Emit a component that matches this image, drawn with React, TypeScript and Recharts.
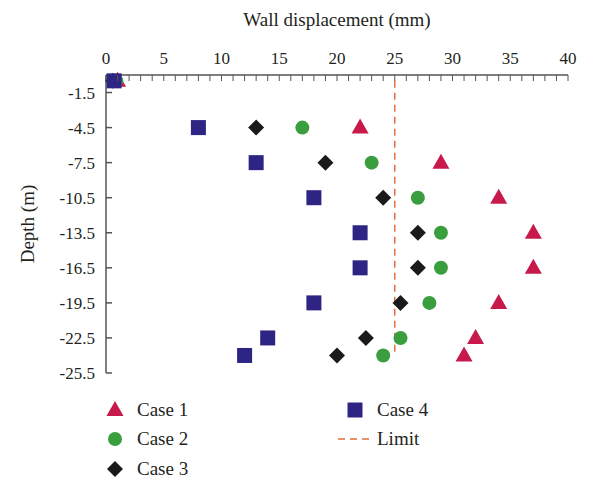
import React from 'react';
import { ScatterChart, Scatter, XAxis, YAxis } from 'recharts';

const DEPTHS = [-0.5, -4.5, -7.5, -10.5, -13.5, -16.5, -19.5, -22.5, -24];
const CASE_1 = [1, 22, 29, 34, 37, 37, 34, 32, 31];
const CASE_2 = [0.9, 17, 23, 27, 29, 29, 28, 25.5, 24];
const CASE_3 = [0.6, 13, 19, 24, 27, 27, 25.5, 22.5, 20];
const CASE_4 = [0.7, 8, 13, 18, 22, 22, 18, 14, 12];
const LIMIT_X = [25, 25];
const LIMIT_DEPTHS = [-0.5, -24];

const X_TICKS = Array.from({ length: 41 }, (_, i) => i);
const Y_TICKS = [-1.5, -4.5, -7.5, -10.5, -13.5, -16.5, -19.5, -22.5, -25.5];

const FONT = '"Liberation Serif", "DejaVu Serif", serif';
const TEXT = '#231f20';
const AXIS = '#555555';
const RED = '#c8194b';
const GREEN = '#3a9e3f';
const BLACK = '#1a1a1a';
const NAVY = '#2e2484';
const ORANGE = '#e0703a';

const PLOT_LEFT = 98;
const PLOT_TOP = 67;

const toPoints = (xs: number[], ys: number[]) => xs.map((x, i) => ({ x, y: ys[i] }));

function Triangle({ cx, cy, fill = RED }: any) {
  return <polygon points={`${cx},${cy - 9} ${cx - 8.5},${cy + 6} ${cx + 8.5},${cy + 6}`} fill={fill} />;
}
function Dot({ cx, cy }: any) {
  return <circle cx={cx} cy={cy} r={7} fill={GREEN} />;
}
function Diamond({ cx, cy }: any) {
  return <polygon points={`${cx},${cy - 8} ${cx + 8},${cy} ${cx},${cy + 8} ${cx - 8},${cy}`} fill={BLACK} />;
}
function Square({ cx, cy }: any) {
  return <rect x={cx - 7.5} y={cy - 7.5} width={15} height={15} fill={NAVY} />;
}
const Nothing = () => <g />;

function XTick({ x, payload }: any) {
  const v = payload.value;
  return (
    <g>
      <line x1={x} x2={x} y1={PLOT_TOP} y2={PLOT_TOP + 6} stroke={AXIS} strokeWidth={1} />
      {v % 5 === 0 && (
        <text x={x} y={PLOT_TOP - 11} textAnchor="middle" fontSize={17} fill={TEXT} fontFamily={FONT}>
          {v}
        </text>
      )}
    </g>
  );
}

function YTick({ y, payload }: any) {
  return (
    <g>
      <line x1={PLOT_LEFT} x2={PLOT_LEFT + 6} y1={y} y2={y} stroke={AXIS} strokeWidth={1.5} />
      <text x={PLOT_LEFT - 11} y={y} dy={6} textAnchor="end" fontSize={17} fill={TEXT} fontFamily={FONT}>
        {payload.value}
      </text>
    </g>
  );
}

function LegendItem({ left, top, icon, label }: any) {
  return (
    <div style={{ position: 'absolute', left, top, display: 'flex', alignItems: 'center', height: 24 }}>
      <svg width={36} height={24} style={{ marginRight: 4 }}>{icon}</svg>
      <span style={{ fontSize: 19, color: TEXT, fontFamily: FONT }}>{label}</span>
    </div>
  );
}

export default function App() {
  return (
    <div style={{ position: 'relative', width: 592, height: 489, fontFamily: FONT, background: '#fff' }}>
      <div style={{ position: 'absolute', left: 0, top: 0, width: 658, textAlign: 'center', fontSize: 19, color: TEXT, lineHeight: '24px' }}>
        Wall displacement (mm)
      </div>
      <div
        style={{
          position: 'absolute',
          left: 20,
          top: 216,
          transform: 'translate(-50%, -50%) rotate(-90deg)',
          fontSize: 19,
          color: TEXT,
          whiteSpace: 'nowrap',
        }}
      >
        Depth (m)
      </div>
      <ScatterChart width={592} height={380} margin={{ top: 0, right: 32, bottom: 15, left: 0 }}>
        <XAxis
          type="number"
          dataKey="x"
          orientation="top"
          height={PLOT_TOP}
          domain={[0, 40]}
          ticks={X_TICKS}
          interval={0}
          tickLine={false}
          tick={<XTick />}
          axisLine={{ stroke: AXIS, strokeWidth: 1.5 }}
        />
        <YAxis
          type="number"
          dataKey="y"
          width={PLOT_LEFT}
          domain={[-25.5, 0]}
          ticks={Y_TICKS}
          interval={0}
          tickLine={false}
          tick={<YTick />}
          axisLine={{ stroke: AXIS, strokeWidth: 1.5 }}
        />
        <Scatter
          name="Limit"
          data={toPoints(LIMIT_X, LIMIT_DEPTHS)}
          line={{ stroke: ORANGE, strokeWidth: 1.5, strokeDasharray: '7 5' }}
          shape={<Nothing />}
          isAnimationActive={false}
        />
        <Scatter name="Case 1" data={toPoints(CASE_1, DEPTHS)} shape={<Triangle />} isAnimationActive={false} />
        <Scatter name="Case 2" data={toPoints(CASE_2, DEPTHS)} shape={<Dot />} isAnimationActive={false} />
        <Scatter name="Case 3" data={toPoints(CASE_3, DEPTHS)} shape={<Diamond />} isAnimationActive={false} />
        <Scatter name="Case 4" data={toPoints(CASE_4, DEPTHS)} shape={<Square />} isAnimationActive={false} />
      </ScatterChart>
      <LegendItem left={89} top={390} label="Case 1" icon={<Triangle cx={18} cy={12} />} />
      <LegendItem left={89} top={419} label="Case 2" icon={<Dot cx={18} cy={12} />} />
      <LegendItem left={89} top={449} label="Case 3" icon={<Diamond cx={18} cy={12} />} />
      <LegendItem left={329} top={390} label="Case 4" icon={<Square cx={18} cy={12} />} />
      <LegendItem
        left={329}
        top={419}
        label="Limit"
        icon={<line x1={1} x2={35} y1={12} y2={12} stroke={ORANGE} strokeWidth={1.5} strokeDasharray="7 5" />}
      />
    </div>
  );
}
